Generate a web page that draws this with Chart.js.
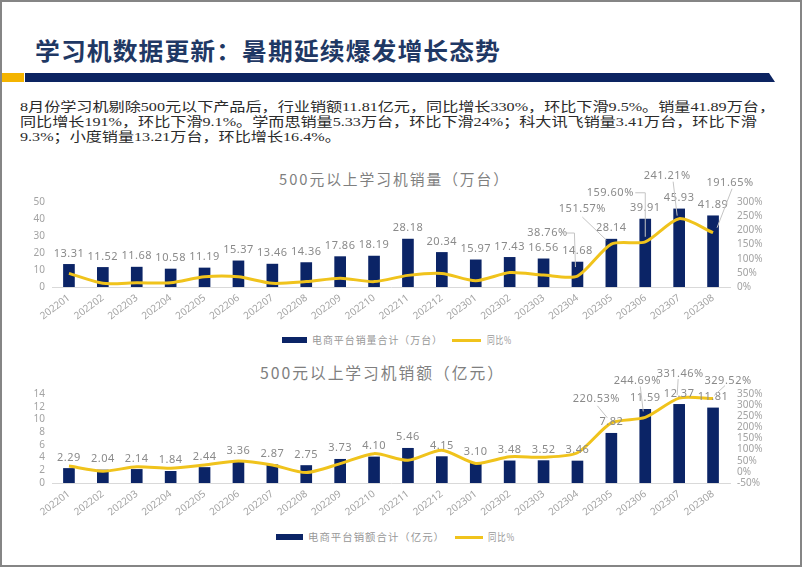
<!DOCTYPE html>
<html>
<head>
<meta charset="utf-8">
<script src="https://cdn.jsdelivr.net/npm/chart.js@4.4.0/dist/chart.umd.min.js"></script>
<style>
  html, body { margin: 0; padding: 0; background: #fff; }
  #slide { position: relative; width: 802px; height: 567px; overflow: hidden; background: #fff;
           font-family: "Noto Sans CJK SC", "Noto Sans", sans-serif; }
  #frame { position: absolute; left: 0; top: 0; width: 802px; height: 567px; box-sizing: border-box;
           border: 2px solid #858585; z-index: 5; pointer-events: none; }
  .abs { position: absolute; white-space: nowrap; transform-origin: left center; }
  #title { left: 35px; top: 35px; font-size: 24px; line-height: 30px; color: #1f3864; font-weight: bold; letter-spacing: 1px; }
  #bar-y { left: 0; top: 73px; width: 24px; height: 9px; background: #f4b400; }
  #bar-n { left: 25px; top: 73px; width: 750px; height: 9px; background: #0c2461;
           clip-path: polygon(0 0, 744px 0, 750px 100%, 0 100%); }
  .para { left: 20px; font-size: 13px; line-height: 15px; color: #2a2a2a;
          font-family: "Liberation Serif", "Noto Sans CJK SC", serif; }
  .ctitle { font-size: 15px; line-height: 18px; color: #7f7f7f; letter-spacing: 2px; }
  .lg-box { position: absolute; height: 6px; background: #0b2466; }
  .lg-line { position: absolute; height: 3px; background: #f0c31c; }
  .lg-text { font-size: 10px; line-height: 12px; color: #979797; letter-spacing: 1px; }
  canvas { position: absolute; left: 0; }
</style>
</head>
<body>
<div id="slide">
  <div id="title" class="abs" data-w="466">学习机数据更新：暑期延续爆发增长态势</div>
  <div id="bar-y" class="abs"></div>
  <div id="bar-n" class="abs"></div>

  <div class="abs para" id="p1" style="top:99px">8月份学习机剔除500元以下产品后，行业销额11.81亿元，同比增长330%，环比下滑9.5%。销量41.89万台，</div>
  <div class="abs para" id="p2" style="top:114px">同比增长191%，环比下滑9.1%。学而思销量5.33万台，环比下滑24%；科大讯飞销量3.41万台，环比下滑</div>
  <div class="abs para" id="p3" style="top:129px">9.3%；小度销量13.21万台，环比增长16.4%。</div>

  <div class="abs ctitle" style="left:279px; top:170px" data-w="231">500元以上学习机销量（万台）</div>
  <canvas id="chart1" width="802" height="166" style="top:165px"></canvas>
  <div class="lg-box" style="left:282px; top:337px; width:25px"></div>
  <div class="abs lg-text" style="left:312px; top:334px" data-w="131">电商平台销量合计（万台）</div>
  <div class="lg-line" style="left:452px; top:339px; width:29px"></div>
  <div class="abs lg-text" style="left:487px; top:334px" data-w="25">同比%</div>

  <div class="abs ctitle" style="left:260px; top:363px; font-size:16px" data-w="245">500元以上学习机销额（亿元）</div>
  <canvas id="chart2" width="802" height="169" style="top:358px"></canvas>
  <div class="lg-box" style="left:276px; top:534px; width:27px"></div>
  <div class="abs lg-text" style="left:308px; top:531px" data-w="137">电商平台销额合计（亿元）</div>
  <div class="lg-line" style="left:455px; top:536px; width:28px"></div>
  <div class="abs lg-text" style="left:488px; top:531px" data-w="27">同比%</div>

  <div id="frame"></div>
</div>
<script>
// 月份
var months = ['202201', '202202', '202203', '202204', '202205', '202206', '202207', '202208', '202209', '202210',
  '202211', '202212', '202301', '202302', '202303', '202304', '202305', '202306', '202307', '202308'];

// 销量（万台）及同比%
var volume = [13.31, 11.52, 11.68, 10.58, 11.19, 15.37, 13.46, 14.36, 17.86, 18.19,
  28.18, 20.34, 15.97, 17.43, 16.56, 14.68, 28.14, 39.91, 45.93, 41.89];
var volumeYoY = [48, 13, 15, 15, 36, 36, 13, 19, 31, 19,
  41, 48, 22, 51, 42, 38.76, 151.57, 159.60, 241.21, 191.65];

// 销额（亿元）及同比%
var amount = [2.29, 2.04, 2.14, 1.84, 2.44, 3.36, 2.87, 2.75, 3.73, 4.10,
  5.46, 4.15, 3.10, 3.48, 3.52, 3.46, 7.82, 11.59, 12.37, 11.81];
var amountYoY = [26, 3, 23, 16, 31, 49, 31, -3, 37, 82,
  52, 97, 38, 68, 66, 86, 220.53, 244.69, 331.46, 329.52];

// 坐标轴范围
var volumeAxis = { min: 0, max: 50, step: 10 };
var volumePctAxis = { min: 0, max: 300, step: 50 };
var amountAxis = { min: 0, max: 14, step: 2 };
var amountPctAxis = { min: -50, max: 350, step: 50 };

// 文字按目标宽度横向拉伸
document.querySelectorAll('[data-w]').forEach(function (el) {
  var w = el.getBoundingClientRect().width;
  el.style.transform = 'scaleX(' + (parseFloat(el.dataset.w) / w) + ')';
});
(function () {
  var w = document.getElementById('p1').getBoundingClientRect().width;
  var k = 755 / w;
  ['p1', 'p2', 'p3'].forEach(function (id) {
    document.getElementById(id).style.transform = 'scaleX(' + k + ')';
  });
})();

var NAVY = '#0b2466';
var GOLD = '#f0c31c';
var TICK = '#a3a3a3';

// 数值标签和引线
var valueLabels = {
  id: 'valueLabels',
  afterDatasetsDraw: function (chart, args, opts) {
    var ctx = chart.ctx;
    ctx.save();
    ctx.font = '11px "Noto Sans"';
    ctx.fillStyle = '#8a8a8a';
    ctx.textAlign = 'center';
    ctx.textBaseline = 'middle';
    try { ctx.letterSpacing = '0.5px'; } catch (e) {}
    var bars = chart.getDatasetMeta(0);
    bars.data.forEach(function (el, i) {
      ctx.fillText(chart.data.datasets[0].data[i].toFixed(2), el.x, el.y - 11);
    });
    var line = chart.getDatasetMeta(1);
    ctx.strokeStyle = '#c4c4c4';
    ctx.lineWidth = 1;
    (opts.callouts || []).forEach(function (c) {
      var el = line.data[c.index];
      var v = chart.data.datasets[1].data[c.index];
      ctx.beginPath();
      c.path.forEach(function (p, j) {
        if (j === 0) ctx.moveTo(el.x + p[0], el.y + p[1]);
        else ctx.lineTo(el.x + p[0], el.y + p[1]);
      });
      ctx.stroke();
      ctx.fillText(v.toFixed(2) + '%', el.x + c.dx, el.y + c.dy);
    });
    ctx.restore();
  }
};

function makeChart(id, bars, pct, leftAxis, rightAxis, padTop, callouts) {
  var ctx = document.getElementById(id).getContext('2d');
  return new Chart(ctx, {
    type: 'bar',
    data: {
      labels: months,
      datasets: [
        { type: 'bar', data: bars, backgroundColor: NAVY, barThickness: 11, yAxisID: 'y', order: 1 },
        { type: 'line', data: pct, borderColor: GOLD, borderWidth: 3, pointRadius: 0, tension: 0.25,
          yAxisID: 'y1', order: 0 }
      ]
    },
    options: {
      responsive: false,
      animation: false,
      layout: { padding: { left: 22, right: 32, top: padTop, bottom: 8 } },
      plugins: {
        legend: { display: false },
        tooltip: { enabled: false },
        valueLabels: { callouts: callouts }
      },
      scales: {
        x: {
          grid: { display: false, drawTicks: false },
          border: { display: true, color: '#d9d9d9' },
          ticks: { color: TICK, font: { size: 10, family: '"Noto Sans"' }, minRotation: 37, maxRotation: 37,
                   autoSkip: false, padding: 5 },
          afterFit: function (s) { s.height = 36; }
        },
        y: {
          position: 'left', min: leftAxis.min, max: leftAxis.max,
          grid: { display: false, drawTicks: false }, border: { display: false },
          ticks: { stepSize: leftAxis.step, autoSkip: false, color: TICK, font: { size: 10, family: '"Noto Sans"' }, padding: 7 },
          afterFit: function (s) { s.width = 30; }
        },
        y1: {
          position: 'right', min: rightAxis.min, max: rightAxis.max,
          grid: { display: false, drawTicks: false }, border: { display: false },
          ticks: { stepSize: rightAxis.step, autoSkip: false, color: TICK, font: { size: 10, family: '"Noto Sans"' }, padding: 7,
                   callback: function (v) { return v + '%'; } },
          afterFit: function (s) { s.width = 40; }
        }
      }
    },
    plugins: [valueLabels]
  });
}

makeChart('chart1', volume, volumeYoY, volumeAxis, volumePctAxis, 37, [
  { index: 15, dx: -30, dy: -43, path: [[-11, -43], [-3, -43], [-2, -9]] },
  { index: 16, dx: -29, dy: -35, path: [[-29, -27], [-5, -4]] },
  { index: 17, dx: -35, dy: -49, path: [[-10, -49], [0, -49], [0, -5]] },
  { index: 18, dx: -12, dy: -43, path: [[-6, -37], [-2, -3]] },
  { index: 19, dx: 17, dy: -50, path: [[19, -44], [4, -5]] }
]);

makeChart('chart2', amount, amountYoY, amountAxis, amountPctAxis, 36, [
  { index: 16, dx: -15, dy: -24, path: [[-14, -17], [-4, -5]] },
  { index: 17, dx: -8, dy: -37, path: [[-5, -31], [-2, -6]] },
  { index: 18, dx: 1, dy: -24, path: [[-1, -19], [-2, -3]] },
  { index: 19, dx: 15, dy: -18, path: [[12, -13], [1, -3]] }
]);
</script>
</body>
</html>
